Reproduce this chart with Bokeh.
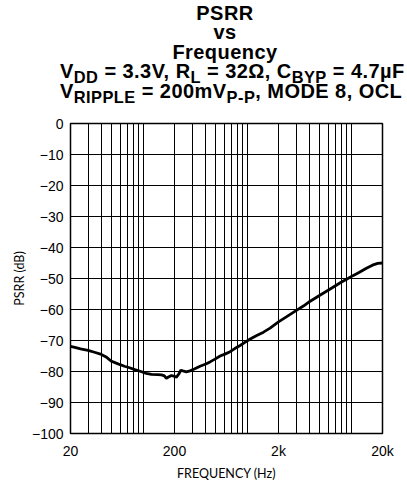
from bokeh.plotting import figure
from bokeh.models import FixedTicker, Div
from bokeh.layouts import column
from bokeh.embed import file_html
from bokeh.resources import INLINE

# ---- data ----
freq_hz = [20, 22, 25, 29.5, 34, 39.6, 44, 49, 55, 60, 66, 74, 83, 95, 107, 120,
           138, 150, 160, 167, 175, 187, 200, 209, 220, 230, 241, 260, 282, 310,
           352, 400, 439, 490, 549, 610, 685, 760, 855, 950, 1068, 1250, 1434,
           1660, 2000, 2400, 3000, 3500, 4000, 5000, 6000, 7000, 8000, 9300,
           10500, 12000, 14000, 16000, 18000, 20000]
psrr_db = [-71.9, -72.2, -72.7, -73.2, -73.8, -74.5, -75.3, -76.6, -77.3, -77.8,
           -78.3, -78.8, -79.4, -80.0, -80.6, -80.9, -81.0, -81.1, -81.4, -82.2,
           -81.8, -81.3, -81.6, -81.8, -80.8, -79.6, -79.8, -80.1, -79.8, -79.2,
           -78.3, -77.6, -76.9, -76.0, -75.0, -74.4, -73.6, -72.6, -71.6, -70.6,
           -69.5, -68.3, -67.3, -66.0, -64.0, -62.3, -60.2, -58.8, -57.4, -55.4,
           -53.8, -52.4, -51.2, -50.0, -49.0, -48.0, -46.7, -45.7, -45.1, -45.0]

x_ticks = [20, 200, 2000, 20000]
x_tick_labels = ["20", "200", "2k", "20k"]
y_ticks = [0, -10, -20, -30, -40, -50, -60, -70, -80, -90, -100]
x_grid = [k * 10 ** n for n in range(1, 5) for k in range(1, 10) if 20 <= k * 10 ** n <= 20000]

# title lines: list of (text, is_subscript)
title_lines = [
    [("PSRR", False)],
    [("vs", False)],
    [("Frequency", False)],
    [("V", False), ("DD", True), (" = 3.3V, R", False), ("L", True),
     (" = 32Ω, C", False), ("BYP", True), (" = 4.7µF", False)],
    [("V", False), ("RIPPLE", True), (" = 200mV", False), ("P-P", True),
     (", MODE 8, OCL", False)],
]

# ---------------- title (HTML, real text with subscripts) ----------------
W = 390
TH = 111
FS = 20
SUBFS = 16.4
line_divs = []
for i, runs in enumerate(title_lines):
    parts = []
    for t, s in runs:
        if s:
            parts.append(f"<span style='font-size:{SUBFS}px;vertical-align:-4.5px;line-height:0'>{t}</span>")
        else:
            parts.append(t)
    lh = 12 if i == 0 else 19.5
    h = 16 if i == 0 else 19.5
    line_divs.append(f"<div style='height:{h}px;line-height:{lh}px;white-space:pre'>{''.join(parts)}</div>")

title_html = (
    "<div style=\"font-family:'Liberation Sans',Arial,sans-serif;font-weight:bold;"
    f"font-size:{FS}px;letter-spacing:0.45px;text-align:center;"
    "margin:0 0 0 60px;padding-top:7px;width:330px;color:#000\">"
    + "".join(line_divs) + "</div>"
)
title_div = Div(text=title_html, width=W, height=TH, margin=0)

# ---------------- main plot ----------------
p = figure(frame_width=312, frame_height=310, x_axis_type="log",
           x_range=(20, 20000), y_range=(-100, 0),
           output_backend="svg", toolbar_location=None, min_border_left=54,
           min_border_right=14, min_border_top=12, min_border_bottom=42,
           margin=(0, 0, 0, 8))

p.line(freq_hz, psrr_db, line_color="black", line_width=2.8)

p.xaxis.ticker = FixedTicker(ticks=x_ticks)
p.xaxis.major_label_overrides = {t: l for t, l in zip(x_ticks, x_tick_labels)}
p.yaxis.ticker = FixedTicker(ticks=y_ticks)
p.xgrid.ticker = FixedTicker(ticks=x_grid)
p.ygrid.ticker = FixedTicker(ticks=y_ticks)
for g in (p.xgrid, p.ygrid):
    g.grid_line_color = "black"
    g.grid_line_width = 1
    g.grid_line_alpha = 1

for ax in (p.xaxis, p.yaxis):
    ax.axis_line_color = None
    ax.major_tick_out = 0
    ax.major_tick_in = 0
    ax.minor_tick_out = 0
    ax.minor_tick_in = 0
    ax.major_tick_line_color = None
    ax.minor_tick_line_color = None
    ax.major_label_text_font = "Liberation Sans"
    ax.major_label_text_font_size = "14px"
    ax.major_label_text_color = "black"
    ax.axis_label_text_font = "Lato"
    ax.axis_label_text_font_size = "12.5px"
    ax.axis_label_text_font_style = "normal"
    ax.axis_label_text_color = "black"

p.xaxis.axis_label = "FREQUENCY (Hz)"
p.yaxis.axis_label = "PSRR (dB)"
p.xaxis.major_label_standoff = 9
p.yaxis.major_label_standoff = 7
p.xaxis.axis_label_standoff = 4
p.yaxis.axis_label_standoff = 2

p.outline_line_color = "black"
p.outline_line_width = 1.5
p.outline_line_alpha = 1

layout = column(title_div, p, spacing=0, margin=0)
open("out.html", "w").write(file_html(layout, INLINE))
